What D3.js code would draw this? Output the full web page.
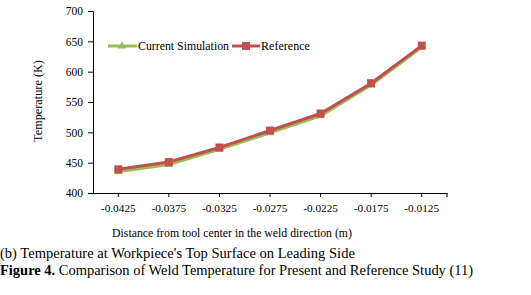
<!DOCTYPE html>
<html><head><meta charset="utf-8">
<script src="https://cdn.jsdelivr.net/npm/d3@7"></script>
<style>body{margin:0;background:#fff}</style>
</head><body><svg id="c" width="531" height="295" font-family="Liberation Serif"></svg>
<script>
const categories = ["-0.0425","-0.0375","-0.0325","-0.0275","-0.0225","-0.0175","-0.0125"];
const currentSim = [435, 447, 472, 499, 527, 578, 640];
const reference = [439, 451, 475, 503, 531, 581, 643];
const yTicks = [400, 450, 500, 550, 600, 650, 700];
const seriesNames = ["Current Simulation", "Reference"];

const FF = "Liberation Serif";
const svg = d3.select("#c");
const L = 93, R = 447, T = 11, B = 193;
const x = d3.scaleBand().domain(categories).range([L, R]);
const y = d3.scaleLinear().domain([400, 700]).range([B, T]);
const cx = d => x(d) + x.bandwidth() / 2;

function fit(sel, w) {
  sel.attr("font-size", 10);
  const len = sel.node().getComputedTextLength();
  sel.attr("font-size", (10 * w / len).toFixed(2));
  return sel;
}

// y axis
const ya = svg.append("g").attr("transform", `translate(${L},0)`)
  .call(d3.axisLeft(y).tickValues(yTicks).tickSize(5).tickPadding(5));
ya.attr("font-family", FF);
ya.select(".domain").attr("stroke", "#000");
ya.selectAll("text").attr("font-size", 11.5).attr("font-family", FF).attr("fill", "#000");

// x axis
const xa = svg.append("g").attr("transform", `translate(0,${B})`)
  .call(d3.axisBottom(x).tickSize(4).tickPadding(7).tickSizeOuter(0));
xa.attr("font-family", FF);
xa.select(".domain").attr("stroke", "#000");
xa.selectAll("text").attr("font-size", 11.3).attr("font-family", FF).attr("fill", "#000");
xa.append("line").attr("x1", R).attr("x2", R).attr("y1", 0).attr("y2", 4).attr("stroke", "#000");

// lines
const colors = ["#9BBB59", "#C0504D"];
const data = [currentSim, reference];
const line = d3.line().x((d, i) => cx(categories[i])).y(d => y(d));
data.forEach((s, k) => {
  svg.append("path").datum(s).attr("d", line).attr("fill", "none")
    .attr("stroke", colors[k]).attr("stroke-width", 3);
});
svg.selectAll(".tri").data(currentSim).enter().append("path")
  .attr("d", d3.symbol().type(d3.symbolTriangle).size(30))
  .attr("transform", (d, i) => `translate(${cx(categories[i])},${y(d)})`)
  .attr("fill", colors[0]);
svg.selectAll(".sq").data(reference).enter().append("rect")
  .attr("x", (d, i) => cx(categories[i]) - 4).attr("y", d => y(d) - 4)
  .attr("width", 8).attr("height", 8).attr("fill", colors[1]);

// legend
const lg = svg.append("g");
lg.append("line").attr("x1", 108).attr("x2", 137).attr("y1", 46).attr("y2", 46).attr("stroke", colors[0]).attr("stroke-width", 3);
lg.append("path").attr("d", d3.symbol().type(d3.symbolTriangle).size(30)).attr("transform", "translate(122,46)").attr("fill", colors[0]);
fit(lg.append("text").attr("x", 138).attr("y", 50).attr("font-family", FF).text(seriesNames[0]), 91);
lg.append("line").attr("x1", 232).attr("x2", 260).attr("y1", 46).attr("y2", 46).attr("stroke", colors[1]).attr("stroke-width", 3);
lg.append("rect").attr("x", 242).attr("y", 42).attr("width", 8).attr("height", 8).attr("fill", colors[1]);
fit(lg.append("text").attr("x", 261).attr("y", 50).attr("font-family", FF).text(seriesNames[1]), 49);

// axis titles
fit(svg.append("text").attr("transform", "translate(42,101) rotate(-90)").attr("text-anchor", "middle")
  .attr("font-family", FF).text("Temperature (K)"), 82);
fit(svg.append("text").attr("x", 232).attr("y", 237).attr("text-anchor", "middle")
  .attr("font-family", FF).text("Distance from tool center in the weld direction (m)"), 240);

// captions
fit(svg.append("text").attr("x", 0).attr("y", 258).attr("font-family", FF)
  .text("(b) Temperature at Workpiece's Top Surface on Leading Side"), 355);
const cap = svg.append("text").attr("x", 0).attr("y", 275).attr("font-family", FF);
cap.append("tspan").attr("font-weight", "bold").text("Figure 4.");
cap.append("tspan").text(" Comparison of Weld Temperature for Present and Reference Study (11)");
fit(cap, 473);
</script></body></html>
